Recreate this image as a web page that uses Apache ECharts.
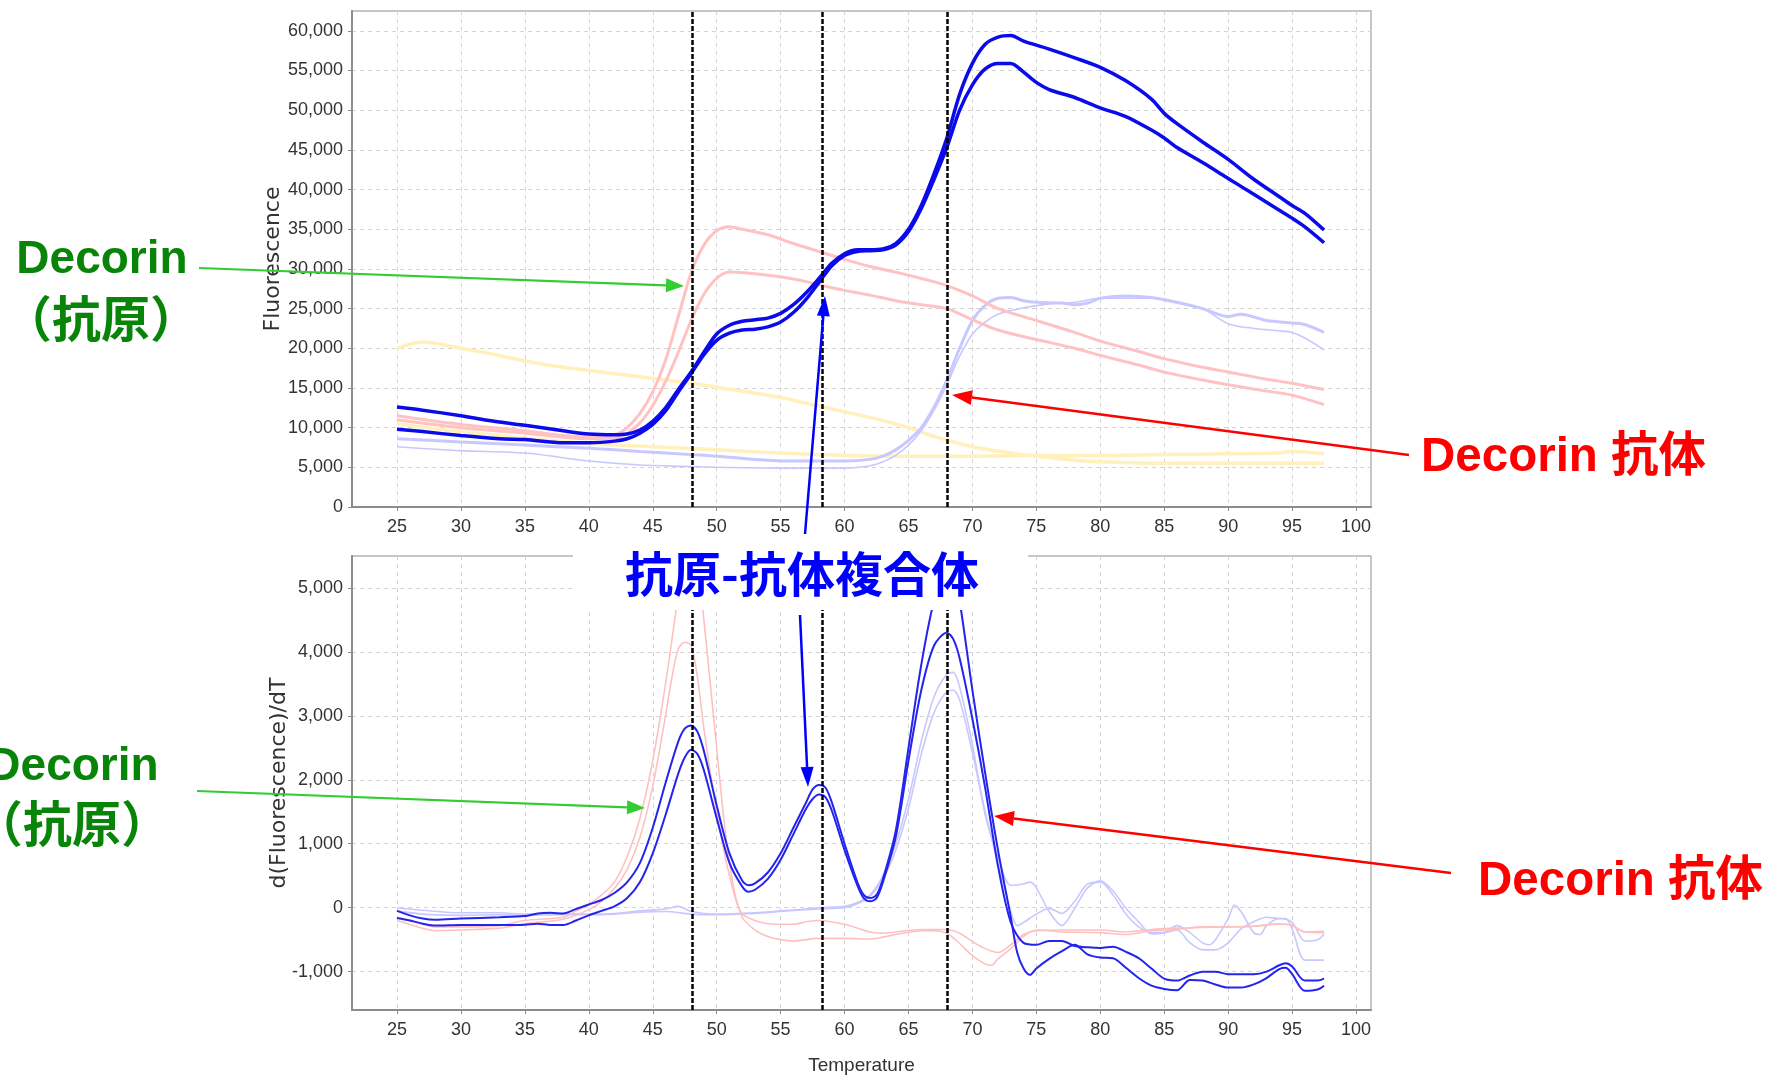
<!DOCTYPE html>
<html>
<head>
<meta charset="utf-8">
<script src="https://cdn.jsdelivr.net/npm/echarts@6/dist/echarts.min.js"></script>
<style>
html,body{margin:0;padding:0;background:#fff;}
#chart{width:1770px;height:1078px;}
</style>
</head>
<body>
<div id="chart"></div>
<script>
// ---------- tick labels ----------
const xTicks = [25,30,35,40,45,50,55,60,65,70,75,80,85,90,95,100];
const yTopTicks = [0,5000,10000,15000,20000,25000,30000,35000,40000,45000,50000,55000,60000];
const yBotTicks = [-1000,0,1000,2000,3000,4000,5000];
const meltTemps = [48.05, 58.25, 68.0];

// ---------- top chart: Fluorescence vs Temperature ----------
const blueHiF = [[25,12600],[27,12200],[30,11500],[33,10700],[35,10300],[38,9600],[40,9200],[42,9100],[43,9200],[44,9700],[45,10800],[46,12500],[47,14800],[48,17000],[49,19500],[50,21800],[51,22900],[52,23400],[53,23600],[54,23800],[55,24400],[56,25500],[57,27000],[58,28800],[59,30700],[60,31900],[61,32400],[62,32400],[63,32500],[64,33200],[65,35000],[66,38000],[67,42000],[68,46500],[69,52000],[70,55900],[71,58300],[72,59200],[73,59400],[74,58700],[75,58200],[76,57700],[78,56600],[80,55400],[82,53700],[84,51400],[85,49600],[86,48300],[88,46000],[90,43800],[92,41300],[94,39100],[95,38000],[96,37000],[97.5,34900]];
const blueLoF = [[25,9800],[27,9500],[30,9000],[33,8600],[35,8500],[38,8100],[40,8100],[42,8300],[43,8600],[44,9300],[45,10400],[46,12100],[47,14500],[48,16800],[49,19200],[50,21000],[51,21900],[52,22300],[53,22400],[54,22700],[55,23300],[56,24500],[57,26200],[58,28300],[59,30400],[60,31700],[61,32200],[62,32300],[63,32400],[64,33000],[65,34700],[66,37600],[67,41300],[68,45300],[69,50000],[70,53200],[71,55200],[72,55900],[73,55900],[74,54800],[75,53500],[76,52600],[78,51600],[80,50300],[82,49200],[84,47500],[85,46500],[86,45300],[88,43400],[90,41400],[92,39400],[94,37400],[95,36400],[96,35300],[97.5,33300]];
const pinkHiF = [[25,11500],[30,10400],[35,9600],[38,9000],[40,8800],[42,9100],[43,10000],[44,11800],[45,14500],[46,18500],[47,24000],[48,29500],[49,33000],[50,34800],[51,35300],[52,35000],[54,34300],[56,33200],[58,32200],[60,31200],[62,30300],[64,29600],[66,28800],[68,27900],[70,26600],[72,25000],[75,23500],[78,22000],[80,20900],[83,19600],[85,18700],[88,17600],[90,17000],[93,16100],[95,15600],[97.5,14800]];
const pinkLoF = [[25,11000],[30,10000],[35,9300],[38,8800],[40,8600],[42,8700],[43,9300],[44,10600],[45,12800],[46,15800],[47,19500],[48,23500],[49,26800],[50,28800],[51,29600],[53,29400],[55,29000],[57,28400],[58,28000],[60,27300],[62,26700],[64,26000],[66,25500],[68,25000],[70,23600],[72,22300],[75,21100],[78,20000],[80,19100],[83,17900],[85,17000],[88,16000],[90,15400],[93,14600],[95,14100],[97.5,12900]];
const yellowHiF = [[25,20000],[27,20800],[30,20000],[33,19100],[35,18400],[38,17600],[40,17200],[44,16400],[48,15600],[50,15100],[55,13800],[58,12700],[60,12000],[63,10900],[65,10000],[67,8900],[70,7600],[73,6800],[75,6400],[78,5900],[80,5700],[85,5500],[90,5500],[95,5500],[97.5,5500]];
const yellowLoF = [[25,10500],[30,9500],[35,8700],[40,8000],[45,7600],[50,7200],[55,6800],[58,6600],[60,6500],[65,6400],[70,6400],[75,6500],[80,6500],[85,6600],[90,6700],[94,6800],[95,7000],[97.5,6700]];
const lavHiF = [[25,8600],[30,8200],[35,7800],[40,7400],[44,7000],[48,6600],[50,6400],[53,6000],[55,5800],[58,5800],[60,5800],[62,6000],[63,6400],[64,7200],[65,8400],[66,10000],[67,12600],[68,16000],[69,20000],[70,23500],[71,25400],[72,26300],[73,26400],[74,26000],[75,25800],[77,25700],[78,25500],[79,25700],[80,26300],[82,26600],[84,26400],[86,25800],[88,25000],[90,24000],[91,24300],[93,23500],[95,23200],[96,23000],[97.5,22000]];
const lavLoF = [[25,7600],[30,7100],[35,6800],[40,5800],[44,5300],[48,5100],[50,5000],[55,4900],[60,4900],[62,5200],[63,5700],[64,6500],[65,7800],[66,9600],[67,12200],[68,15400],[69,19000],[70,21800],[71,23300],[72,24300],[74,25100],[76,25600],[78,25800],[80,26300],[84,26300],[86,25700],[88,25000],[90,23100],[92,22500],[94,22200],[95,22000],[96,21300],[97.5,19800]];

// ---------- bottom chart: d(Fluorescence)/dT ----------
const dBlueHi = [[25,-50],[26,-120],[27,-170],[28,-190],[30,-170],[33,-150],[35,-130],[36,-90],[37,-80],[38,-90],[39,-20],[40,50],[41,120],[42,230],[43,400],[44,700],[45,1250],[46,1950],[47,2600],[47.5,2800],[48,2850],[48.5,2750],[49,2450],[50,1600],[51,850],[52,420],[52.5,350],[53,380],[54,550],[55,850],[56,1250],[57,1650],[57.5,1850],[58,1920],[58.5,1880],[59,1650],[60,1000],[61,400],[61.5,200],[62,150],[62.5,200],[63,450],[64,1200],[65,2500],[66,3800],[67,4800],[68,5300],[68.5,5300],[69,4800],[70,3400],[71,2100],[72,900],[73,-150],[73.5,-700],[74,-950],[74.5,-1050],[75,-950],[76,-800],[77,-680],[78,-580],[79,-730],[80,-780],[81,-790],[82,-940],[83,-1100],[84,-1220],[85,-1270],[86,-1290],[87,-1130],[88,-1140],[89,-1200],[90,-1250],[91,-1250],[92,-1200],[93,-1100],[94,-960],[94.5,-940],[95,-1040],[96,-1300],[97,-1280],[97.5,-1220]];
const dBlueLo = [[25,-160],[26,-200],[27,-250],[28,-280],[30,-270],[33,-270],[35,-265],[36,-250],[37,-270],[38,-270],[39,-200],[40,-120],[41,-50],[42,20],[43,150],[44,400],[45,850],[46,1450],[47,2100],[47.5,2350],[48,2470],[48.5,2400],[49,2150],[50,1400],[51,700],[52,330],[52.5,250],[53,280],[54,450],[55,750],[56,1150],[57,1550],[57.5,1700],[58,1770],[58.5,1730],[59,1520],[60,900],[61,350],[61.5,150],[62,100],[62.5,150],[63,400],[64,1100],[65,2300],[66,3400],[67,4100],[68,4300],[68.5,4200],[69,3900],[70,2950],[71,1870],[72,650],[73,-230],[74,-550],[75,-580],[76,-520],[77,-520],[78,-600],[79,-620],[80,-630],[81,-610],[82,-690],[83,-790],[84,-950],[85,-1110],[86,-1140],[87,-1060],[88,-1000],[89,-1000],[90,-1040],[91,-1040],[92,-1040],[93,-1000],[94,-900],[94.5,-870],[95,-920],[96,-1140],[97,-1140],[97.5,-1110]];
const dLavHi = [[25,0],[27,-40],[30,-80],[33,-80],[35,-100],[38,-90],[40,-100],[42,-90],[44,-50],[46,-20],[47,20],[48,-60],[50,-100],[53,-80],[55,-50],[57,-20],[58,0],[59,10],[60,20],[61,80],[62,200],[63,500],[64,1000],[65,1700],[66,2600],[67,3300],[68,3650],[68.5,3680],[69,3450],[70,2550],[71,1450],[72,800],[73,350],[74,370],[74.5,400],[75,310],[76,-60],[77,-280],[78,-10],[79,310],[80,420],[81,260],[82,-10],[83,-220],[84,-410],[85,-390],[86,-280],[87,-390],[88,-550],[88.5,-580],[89,-500],[90,-170],[90.5,40],[91,-60],[92,-390],[92.5,-420],[93,-280],[94,-170],[95,-230],[96,-520],[97,-500],[97.5,-410]];
const dLavLo = [[25,-50],[27,-100],[30,-120],[33,-110],[35,-120],[38,-110],[40,-110],[42,-100],[44,-70],[46,-60],[48,-100],[50,-110],[53,-90],[55,-60],[57,-30],[58,-20],[60,0],[61,60],[62,180],[63,450],[64,900],[65,1550],[66,2400],[67,3050],[68,3380],[68.5,3400],[69,3250],[70,2420],[71,1500],[72,690],[73,-60],[73.5,-280],[74,-230],[75,-100],[76,-10],[77,-90],[78,100],[79,370],[80,400],[81,200],[82,-100],[83,-300],[84,-390],[85,-390],[86,-350],[87,-550],[88,-660],[89,-660],[90,-550],[91,-330],[92,-220],[93,-150],[94,-170],[94.5,-170],[95,-330],[96,-820],[97,-820],[97.5,-820]];
const dPinkHi = [[25,-150],[27,-250],[28,-300],[30,-300],[33,-280],[35,-200],[38,-150],[39,-50],[40,50],[41,200],[42,400],[43,800],[44,1400],[45,2300],[46,3500],[47,4900],[47.5,5600],[48,5800],[48.5,5500],[49,4500],[50,2500],[50.5,1500],[51,700],[51.5,150],[52,-100],[53,-200],[54,-250],[56,-260],[57,-220],[58,-200],[60,-260],[62,-380],[63,-400],[64,-380],[66,-340],[68,-340],[69,-400],[70,-530],[71,-640],[72,-700],[73,-580],[74,-420],[75,-360],[77,-350],[80,-350],[82,-380],[84,-340],[86,-320],[88,-310],[90,-300],[92,-290],[94,-260],[95,-280],[96,-380],[97.5,-370]];
const dPinkLo = [[25,-200],[27,-320],[28,-360],[30,-350],[33,-320],[35,-250],[38,-180],[40,-30],[41,100],[42,300],[43,600],[44,1100],[45,1900],[46,3000],[46.5,3600],[47,4050],[47.5,4150],[48,4100],[48.5,3600],[49,2800],[50,1500],[51,500],[52,-150],[53,-350],[54,-450],[55,-500],[56,-520],[58,-480],[60,-480],[62,-490],[63,-460],[64,-420],[66,-360],[67,-360],[68,-400],[69,-560],[70,-750],[71,-880],[71.5,-900],[72,-800],[73,-640],[74,-450],[75,-350],[77,-380],[80,-390],[82,-420],[84,-360],[86,-340],[88,-300],[90,-300],[92,-290],[94,-250],[95,-280],[96,-380],[97.5,-390]];

// ---------- styling ----------
const tickFont = "'Liberation Sans Narrow', 'Liberation Sans', Arial, sans-serif";
const fmt = v => Number(v).toLocaleString('en-US');

function xAxisCfg(gi, withName) {
  const a = {
    type: 'value', gridIndex: gi, min: 21.48, max: 101.17,
    axisLine: { show: true, onZero: false, lineStyle: { color: '#8c8c8c', width: 2 } },
    axisTick: { show: true, length: 4, customValues: xTicks, lineStyle: { color: '#8c8c8c' } },
    axisLabel: { customValues: xTicks, fontFamily: tickFont, fontSize: 18, color: '#333', margin: 11 },
    splitLine: { show: true, lineStyle: { color: '#d4d4d4', type: [4, 4], width: 1 } }
  };
  if (withName) {
    Object.assign(a, { name: 'Temperature', nameLocation: 'middle', nameGap: 46, nameMoveOverlap: false,
      nameTextStyle: { fontFamily: tickFont, fontSize: 19, color: '#333' } });
  }
  return a;
}
function yAxisCfg(gi, min, max, ticks, name, gap) {
  return {
    type: 'value', gridIndex: gi, min, max,
    name, nameLocation: 'middle', nameRotate: 90, nameGap: gap, nameMoveOverlap: false,
    nameTextStyle: { fontFamily: "'DejaVu Sans', sans-serif", fontSize: 22, color: '#333' },
    axisLine: { show: true, onZero: false, lineStyle: { color: '#8c8c8c', width: 2 } },
    axisTick: { show: true, length: 4, customValues: ticks, lineStyle: { color: '#8c8c8c' } },
    axisLabel: { customValues: ticks, formatter: fmt, fontFamily: tickFont, fontSize: 18, color: '#333', margin: 9 },
    splitLine: { show: true, lineStyle: { color: '#d4d4d4', type: [4, 4], width: 1 } }
  };
}
function ln(data, gi, color, width) {
  return { type: 'line', data, xAxisIndex: gi, yAxisIndex: gi, showSymbol: false, symbol: 'none',
    smooth: 0.3, silent: true, animation: false, lineStyle: { color, width } };
}
function withMelt(s) {
  s.markLine = { silent: true, animation: false, symbol: ['none', 'none'], label: { show: false },
    lineStyle: { color: '#000', width: 2.5, type: [5, 2] },
    data: meltTemps.map(t => ({ xAxis: t })) };
  return s;
}

const series = [
  ln(yellowHiF, 0, '#FFF0BC', 3.5),
  ln(yellowLoF, 0, '#FFF0BC', 3.5),
  ln(lavHiF, 0, '#C8C8FF', 3),
  ln(lavLoF, 0, '#C8C8FF', 1.6),
  ln(pinkHiF, 0, '#FFC2C2', 3),
  ln(pinkLoF, 0, '#FFC2C2', 3),
  ln(blueLoF, 0, '#0A0AEB', 3.5),
  withMelt(ln(blueHiF, 0, '#0A0AEB', 3.5)),
  ln(dLavHi, 1, '#C8C8FF', 1.6),
  ln(dLavLo, 1, '#C8C8FF', 1.6),
  ln(dPinkHi, 1, '#FFC0C0', 1.6),
  ln(dPinkLo, 1, '#FFC0C0', 1.6),
  ln(dBlueLo, 1, '#2424EE', 2),
  withMelt(ln(dBlueHi, 1, '#2424EE', 2))
];

// ---------- annotations ----------
function arrow(x1, y1, x2, y2, color, w, hl, hw) {
  const dx = x2 - x1, dy = y2 - y1, L = Math.hypot(dx, dy);
  const ux = dx / L, uy = dy / L, bx = x2 - ux * hl, by = y2 - uy * hl;
  const nx = -uy * hw / 2, ny = ux * hw / 2;
  return [
    { type: 'line', z: 120, silent: true, shape: { x1, y1, x2: bx, y2: by }, style: { stroke: color, lineWidth: w } },
    { type: 'polygon', z: 120, silent: true, shape: { points: [[x2, y2], [bx + nx, by + ny], [bx - nx, by - ny]] }, style: { fill: color } }
  ];
}
function txt(text, x, y, font, fill, align) {
  return { type: 'text', z: 130, silent: true, x: 0, y: 0,
    style: { text, x, y, font, fill, align: align || 'center', textAlign: align || 'center', verticalAlign: 'middle', textVerticalAlign: 'middle' } };
}
const latinBold = "bold 46px 'Liberation Sans', Arial, sans-serif";
const cjkBold = "bold 49px 'Noto Sans CJK JP', sans-serif";
const mixBold = "bold 47.5px 'Liberation Sans', 'Noto Sans CJK JP', sans-serif";
const green = '#088408', red = '#FF0000', blue = '#0000FF', arrowGreen = '#33CC33';

const graphics = [
  { type: 'rect', z: 110, silent: true, shape: { x: 573, y: 538, width: 455, height: 72 }, style: { fill: '#ffffff' } },
  ...arrow(199, 268, 684, 286, arrowGreen, 2.2, 18, 14),
  ...arrow(197, 791, 645, 808, arrowGreen, 2.2, 18, 14),
  ...arrow(1409, 455, 952, 395, red, 2.5, 20, 15),
  ...arrow(1451, 873, 994, 816, red, 2.5, 20, 15),
  ...arrow(805, 534, 825, 296, blue, 2.5, 20, 13),
  ...arrow(800, 615, 808, 787, blue, 2.5, 20, 13),
  txt('Decorin', 102, 260, latinBold, green),
  txt('（抗原）', 101, 318, cjkBold, green),
  txt('Decorin', 73, 767, latinBold, green),
  txt('（抗原）', 72, 823, cjkBold, green),
  txt('Decorin 抗体', 1421, 458, mixBold, red, 'left'),
  txt('Decorin 抗体', 1478, 882, mixBold, red, 'left'),
  txt('抗原-抗体複合体', 802, 574, "bold 48px 'Noto Sans CJK JP', sans-serif", blue)
];

const chart = echarts.init(document.getElementById('chart'), null, { renderer: 'canvas' });
chart.setOption({
  animation: false,
  backgroundColor: '#fff',
  grid: [
    { left: 352, top: 11, width: 1019, height: 496, show: true, borderColor: '#b4b4b4', borderWidth: 1.5, containLabel: false },
    { left: 352, top: 556, width: 1019, height: 454, show: true, borderColor: '#b4b4b4', borderWidth: 1.5, containLabel: false }
  ],
  xAxis: [xAxisCfg(0, false), xAxisCfg(1, true)],
  yAxis: [
    yAxisCfg(0, 0, 62500, yTopTicks, 'Fluorescence', 68),
    yAxisCfg(1, -1600, 5500, yBotTicks, 'd(Fluorescence)/dT', 62)
  ],
  series,
  graphic: graphics
});
</script>
</body>
</html>
